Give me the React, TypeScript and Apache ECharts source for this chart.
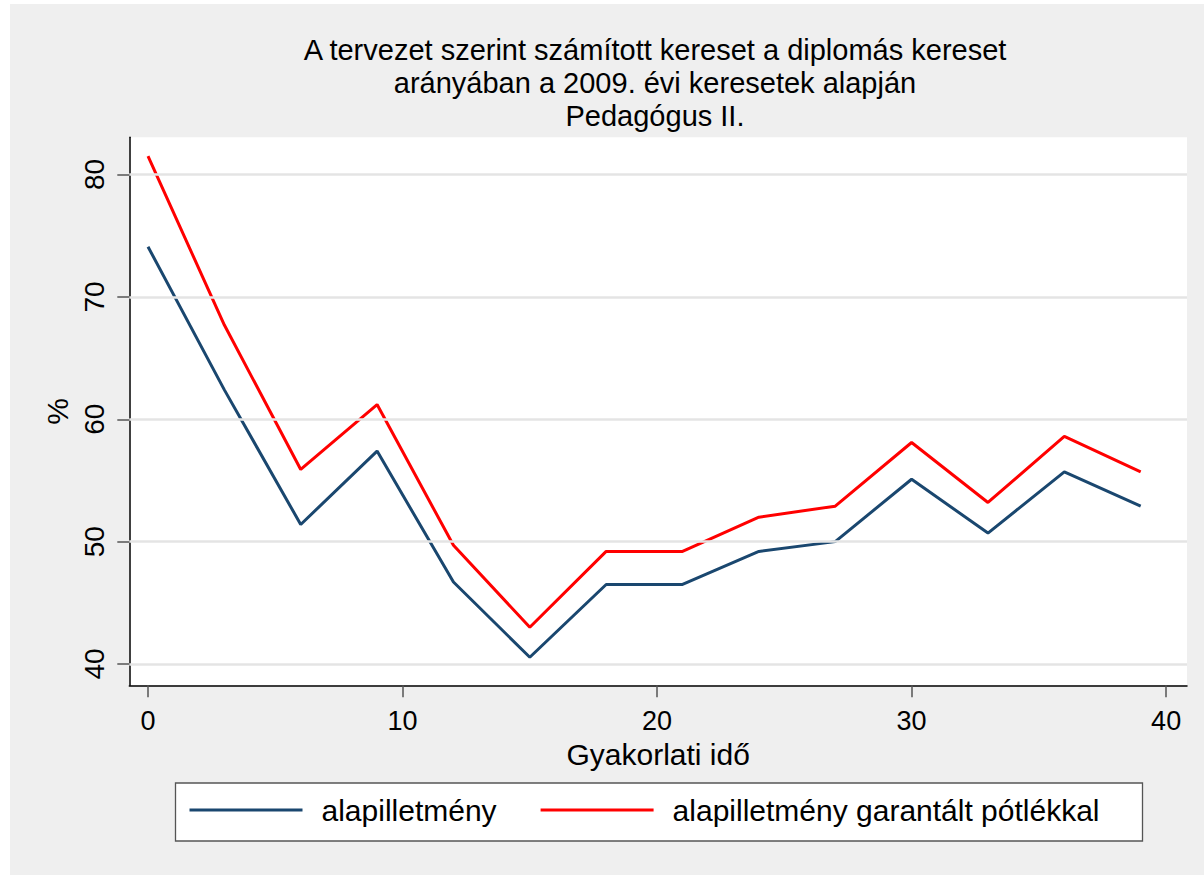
import React, { useEffect, useRef } from "react";
import * as echarts from "echarts";

const years = [0, 3, 6, 9, 12, 15, 18, 21, 24, 27, 30, 33, 36, 39];
const alapilletmeny = [74.1, 62.4, 51.4, 57.4, 46.7, 40.55, 46.5, 46.5, 49.2, 50.0, 55.1, 50.7, 55.7, 52.9];
const garantalt = [81.5, 67.7, 55.9, 61.2, 49.7, 43.0, 49.2, 49.2, 52.0, 52.9, 58.1, 53.2, 58.6, 55.7];
const xTicks = [0, 10, 20, 30, 40];
const yTicks = [40, 50, 60, 70, 80];
const seriesNames = ["alapilletmény", "alapilletmény garantált pótlékkal"];
const titleLines = [
  "A tervezet szerint számított kereset a diplomás kereset",
  "arányában a 2009. évi keresetek alapján",
  "Pedagógus II.",
];
const xTitle = "Gyakorlati idő";
const yTitle = "%";

export default function App() {
  const ref = useRef<HTMLDivElement>(null);
  useEffect(() => {
    const chart = echarts.init(ref.current!, null, { renderer: "svg" });
    const font = '"Liberation Sans", Arial, Helvetica, sans-serif';
    chart.setOption({
      animation: false,
      backgroundColor: "#efefef",
      title: {
        text: titleLines.join("\n"),
        left: 645,
        top: 29,
        textAlign: "center",
        padding: 0,
        textStyle: { fontFamily: font, fontSize: 29, fontWeight: "normal", color: "#000", lineHeight: 33 },
      },
      grid: { left: 119.3, top: 133.3, right: 17, bottom: 189.7, show: true, backgroundColor: "#fff", borderWidth: 0 },
      xAxis: {
        type: "value",
        min: -0.735,
        max: 40.82,
        name: xTitle,
        nameLocation: "middle",
        nameGap: 45,
        nameTextStyle: { fontFamily: font, fontSize: 30, color: "#000" },
        axisLine: { show: true, onZero: false, lineStyle: { color: "#000", width: 1.5 } },
        axisTick: { show: true, length: 12, customValues: xTicks, lineStyle: { color: "#555", width: 1.5 } },
        axisLabel: { customValues: xTicks, fontFamily: font, fontSize: 27, margin: 22, color: "#000" },
        splitLine: { show: false },
      },
      yAxis: {
        type: "value",
        min: 38.26,
        max: 83.04,
        name: yTitle,
        nameLocation: "middle",
        nameGap: 54,
        nameTextStyle: { fontFamily: font, fontSize: 30, color: "#000" },
        axisLine: { show: true, onZero: false, lineStyle: { color: "#000", width: 1.5 } },
        axisTick: { show: true, length: 12, customValues: yTicks, lineStyle: { color: "#555", width: 1.5 } },
        axisLabel: { customValues: yTicks, rotate: 90, fontFamily: font, fontSize: 28, margin: 21, color: "#000" },
        splitLine: { show: false },
      },
      legend: {
        data: seriesNames,
        left: 179.5,
        top: 790,
        orient: "horizontal",
        icon: "rect",
        itemWidth: 113,
        itemHeight: 3,
        itemGap: 44,
        padding: 0,
        selectedMode: false,
        textStyle: { fontFamily: font, fontSize: 30, color: "#000", padding: [0, 0, 0, 14], lineHeight: 32 },
      },
      graphic: [
        {
          type: "rect",
          z: 0,
          shape: { x: 165.5, y: 779, width: 967, height: 58 },
          style: { fill: "#fff", stroke: "#555", lineWidth: 1.3 },
        },
      ],
      series: [
        {
          type: "line",
          data: [],
          z: 1,
          silent: true,
          markLine: {
            silent: true,
            symbol: "none",
            label: { show: false },
            lineStyle: { color: "#e4e4e4", width: 2.5, type: "solid" },
            data: yTicks.map((v) => ({ yAxis: v })),
          },
        },
        {
          type: "line",
          name: seriesNames[0],
          data: years.map((x, i) => [x, alapilletmeny[i]]),
          symbol: "none",
          z: 3,
          lineStyle: { color: "#1a476f", width: 3 },
          itemStyle: { color: "#1a476f" },
        },
        {
          type: "line",
          name: seriesNames[1],
          data: years.map((x, i) => [x, garantalt[i]]),
          symbol: "none",
          z: 3,
          lineStyle: { color: "#ff0000", width: 3 },
          itemStyle: { color: "#ff0000" },
        },
      ],
    });
    return () => chart.dispose();
  }, []);
  return (
    <div
      ref={ref}
      style={{ position: "absolute", left: 10, top: 4, width: 1194, height: 871, background: "#efefef" }}
    />
  );
}
